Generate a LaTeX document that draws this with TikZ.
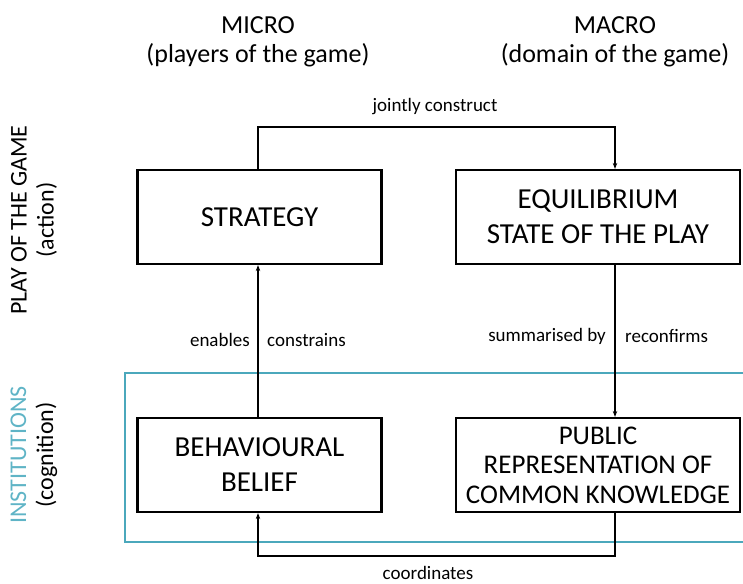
\documentclass[tikz,border=0pt]{standalone}
\usepackage{fontspec}
\setmainfont{Carlito}
\usetikzlibrary{arrows.meta}
\definecolor{teal1}{RGB}{75,168,188}
\definecolor{teal2}{RGB}{95,180,198}
\tikzset{
  box/.style={draw,line width=2.2pt,minimum width=#1,minimum height=94pt,align=center,font=\fontsize{29}{35}\selectfont,inner sep=0pt},
  link/.style={line width=1.1pt,-{Stealth[length=6pt,width=4.5pt]}},
  lab/.style={font=\fontsize{19}{22}\selectfont,inner sep=0pt},
  head/.style={font=\fontsize{26}{29}\selectfont,align=center,inner sep=0pt},
  side/.style={font=\fontsize{24}{27}\selectfont,align=center,inner sep=0pt,rotate=90},
}
\begin{document}
\begin{tikzpicture}[x=1pt,y=-1pt]
\useasboundingbox (0,0) rectangle (743,583);
% teal institutions frame
\draw[teal1,line width=2.4pt] (125,373) rectangle (760,542);
\node[box=244pt] (strat) at (259.5,217) {STRATEGY};
\node[box=284pt] (equi) at (598,217) {EQUILIBRIUM\\STATE OF THE PLAY};
\node[box=244pt] (beh) at (259.5,465) {BEHAVIOURAL\\BELIEF};
\node[box=284pt,font=\fontsize{27}{29.5}\selectfont] (pub) at (598,465) {PUBLIC\\REPRESENTATION OF\\COMMON KNOWLEDGE};
\node[head] (micro) at (258,42) {MICRO\\(players of the game)};
\node[head] (macro) at (615,42) {MACRO\\(domain of the game)};
\node[side] (play) at (34,220) {PLAY OF THE GAME\\(action)};
\node[side] (inst) at (34,455) {\textcolor{teal2}{INSTITUTIONS}\\(cognition)};
\coordinate (tl) at (258,127);
\coordinate (tr) at (615,127);
\coordinate (bl) at (258,556);
\coordinate (br) at (615,556);
\draw[link] (strat.north -| tl) -- (tl) -- (tr) -- (equi.north -| tr);
\node[lab] (jc) at (435,107) {jointly construct};
\draw[link] (beh.north -| tl) -- (strat.south -| tl);
\node[lab,anchor=east] (en) at (250,340) {enables};
\node[lab,anchor=west] (co) at (267,340) {constrains};
\draw[link] (equi.south -| tr) -- (pub.north -| tr);
\node[lab,anchor=east] (su) at (606,336) {summarised by};
\node[lab,anchor=west] (re) at (625,336) {reconfirms};
\draw[link] (pub.south -| br) -- (br) -- (bl) -- (beh.south -| bl);
\node[lab] (coord) at (428,573) {coordinates};
\end{tikzpicture}
\end{document}
